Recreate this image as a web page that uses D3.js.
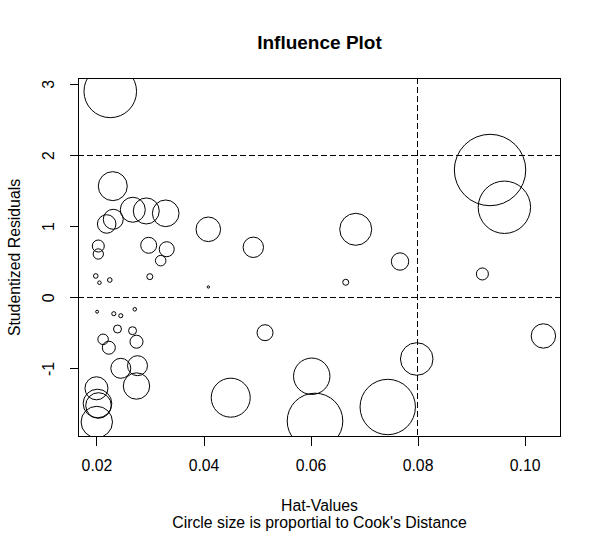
<!DOCTYPE html>
<html>
<head>
<meta charset="utf-8">
<script src="https://cdn.jsdelivr.net/npm/d3@7/dist/d3.min.js"></script>
<style>
  html, body { margin: 0; padding: 0; background: #fff; }
  svg { display: block; font-family: "Liberation Sans", Arial, sans-serif; }
</style>
</head>
<body>
<svg id="chart" width="602" height="535"></svg>
<script>
// ---- data ----
const hatValues = [
  0.02267, 0.02314, 0.02688, 0.02940, 0.03303, 0.02200, 0.02323, 0.02043, 0.02043, 0.02985,
  0.03322, 0.03209, 0.01996, 0.02065, 0.02258, 0.03006, 0.02021, 0.02333, 0.02464, 0.02725,
  0.02402, 0.02683, 0.02133, 0.02240, 0.02757, 0.02464, 0.02776, 0.02757, 0.02009, 0.02028,
  0.02047, 0.02015, 0.04099, 0.04940, 0.06854, 0.07682, 0.05159, 0.04518, 0.06032, 0.06093,
  0.07452, 0.07994, 0.09364, 0.09632, 0.09221, 0.10361, 0.06667, 0.04100
];
const studRes = [
  2.889, 1.556, 1.224, 1.207, 1.174, 1.024, 1.090, 0.714, 0.602, 0.724,
  0.669, 0.508, 0.293, 0.198, 0.236, 0.283, -0.210, -0.238, -0.266, -0.176,
  -0.453, -0.477, -0.598, -0.716, -0.632, -1.006, -0.969, -1.255, -1.287, -1.501,
  -1.529, -1.761, 0.949, 0.696, 0.949, 0.496, -0.505, -1.419, -1.118, -1.747,
  -1.550, -0.875, 1.783, 1.259, 0.321, -0.551, 0.204, 0.138
];
const cooksD = [
  0.0651, 0.0198, 0.0147, 0.0159, 0.0167, 0.0081, 0.0094, 0.0034, 0.0025, 0.0060,
  0.0053, 0.0026, 0.0005, 0.0003, 0.0005, 0.00085, 0.0002, 0.0004, 0.0004, 0.0003,
  0.0015, 0.0015, 0.0026, 0.0040, 0.0040, 0.0094, 0.0094, 0.0164, 0.0125, 0.0193,
  0.0154, 0.0232, 0.0142, 0.0098, 0.0241, 0.0071, 0.0060, 0.0358, 0.0312, 0.0728,
  0.0722, 0.0250, 0.1200, 0.0646, 0.0034, 0.0140, 0.00085, 0.00013
];
const xTicks = [0.02, 0.04, 0.06, 0.08, 0.10];
const xTickLabels = ["0.02", "0.04", "0.06", "0.08", "0.10"];
const yTicks = [-1, 0, 1, 2, 3];
const yTickLabels = ["-1", "0", "1", "2", "3"];
const xDomain = [0.01664, 0.1069];
const yDomain = [-1.972, 3.077];
const hLines = [-2, 0, 2];
const vLines = [0.08];
const titleText = "Influence Plot";
const xLabelText = "Hat-Values";
const subText = "Circle size is proportial to Cook's Distance";
const yLabelText = "Studentized Residuals";

// ---- layout ----
const L = 78, R = 561, T = 78, B = 437;
const FS = 15.8;
const svg = d3.select("#chart");
const x = d3.scaleLinear().domain(xDomain).range([L, R]);
const y = d3.scaleLinear().domain(yDomain).range([B, T]);
const rScale = d3.scaleSqrt().domain([0, d3.max(cooksD)]).range([0, 35.7]);

svg.append("defs").append("clipPath").attr("id", "plotclip")
  .append("rect").attr("x", L).attr("y", T).attr("width", R - L).attr("height", B - T);

const pts = hatValues.map((h, i) => ({ h, r: studRes[i], c: cooksD[i] }));

const g = svg.append("g").attr("clip-path", "url(#plotclip)");
g.selectAll("line.h").data(hLines).enter().append("line")
  .attr("x1", L).attr("x2", R)
  .attr("y1", d => Math.round(y(d)) + 0.5).attr("y2", d => Math.round(y(d)) + 0.5)
  .attr("stroke", "#000").attr("stroke-dasharray", "6,3").attr("shape-rendering", "crispEdges");
g.selectAll("line.v").data(vLines).enter().append("line")
  .attr("y1", T).attr("y2", B)
  .attr("x1", d => Math.round(x(d)) + 0.5).attr("x2", d => Math.round(x(d)) + 0.5)
  .attr("stroke", "#000").attr("stroke-dasharray", "6,3").attr("shape-rendering", "crispEdges");

g.selectAll("circle").data(pts).enter().append("circle")
  .attr("cx", d => x(d.h)).attr("cy", d => y(d.r)).attr("r", d => rScale(d.c))
  .attr("fill", "none").attr("stroke", "#000").attr("stroke-width", 1);

// box
svg.append("rect").attr("x", L + 0.5).attr("y", T + 0.5)
  .attr("width", R - L - 1).attr("height", B - T - 1)
  .attr("fill", "none").attr("stroke", "#000").attr("shape-rendering", "crispEdges");

// axes
const xAxis = d3.axisBottom(x).tickValues(xTicks).tickSize(9).tickPadding(14)
  .tickFormat((d, i) => xTickLabels[i]);
const xg = svg.append("g").attr("transform", `translate(0.5,${B - 0.5})`).call(xAxis);
xg.select(".domain").remove();
xg.selectAll("line").attr("stroke", "#000").attr("shape-rendering", "crispEdges");
xg.selectAll("text").attr("font-size", FS).attr("fill", "#000")
  .attr("font-family", "Liberation Sans, Arial, sans-serif").attr("dy", "0.71em");

const yAxis = d3.axisLeft(y).tickValues(yTicks).tickSize(9).tickPadding(0)
  .tickFormat((d, i) => yTickLabels[i]);
const yg = svg.append("g").attr("transform", `translate(${L + 0.5},0.5)`).call(yAxis);
yg.select(".domain").remove();
yg.selectAll("line").attr("stroke", "#000").attr("shape-rendering", "crispEdges");
yg.selectAll("text")
  .attr("x", null).attr("dy", null)
  .attr("font-size", FS).attr("fill", "#000")
  .attr("font-family", "Liberation Sans, Arial, sans-serif")
  .attr("text-anchor", "middle")
  .attr("transform", "translate(-30.5,0) rotate(-90)")
  .attr("dy", "0.35em");

// titles
svg.append("text").attr("x", (L + R) / 2).attr("y", 49).attr("text-anchor", "middle")
  .attr("font-size", 19).attr("font-weight", "bold").text(titleText);
svg.append("text").attr("x", (L + R) / 2).attr("y", 510.5).attr("text-anchor", "middle")
  .attr("font-size", FS).text(xLabelText);
svg.append("text").attr("x", (L + R) / 2).attr("y", 528).attr("text-anchor", "middle")
  .attr("font-size", FS).text(subText);
svg.append("text").attr("transform", `translate(14,${(T + B) / 2}) rotate(-90)`)
  .attr("text-anchor", "middle").attr("dy", "0.35em")
  .attr("font-size", FS).text(yLabelText);
</script>
</body>
</html>
